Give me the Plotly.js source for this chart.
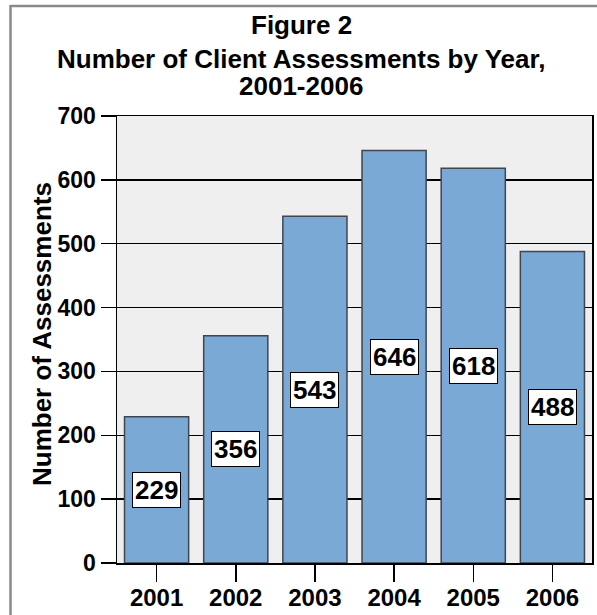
<!DOCTYPE html>
<html>
<head>
<meta charset="utf-8">
<script src="https://cdn.plot.ly/plotly-3.0.1.min.js"></script>
<style>html,body{margin:0;padding:0;background:#fff;overflow:hidden;}#chart{width:597px;height:615px;}</style>
</head>
<body>
<div id="chart"></div>
<script>
const years = ['2001', '2002', '2003', '2004', '2005', '2006'];
const assessments = [229, 356, 543, 646, 618, 488];
const yTicks = [0, 100, 200, 300, 400, 500, 600, 700];
const titleLine1 = 'Figure 2';
const titleLine2 = 'Number of Client Assessments by Year,';
const titleLine3 = '2001-2006';
const yTitle = 'Number of Assessments';

const FONT = 'Arial, "Liberation Sans", Helvetica, sans-serif';

const trace = {
  type: 'bar',
  x: years,
  y: assessments,
  marker: { color: '#7aa9d6', line: { color: '#3f4650', width: 1.5 } },
  hoverinfo: 'none'
};

const labelAnns = years.map((yr, i) => ({
  x: i, y: assessments[i] / 2, xref: 'x', yref: 'y',
  text: String(assessments[i]), showarrow: false,
  font: { family: FONT, size: 26, color: '#000', weight: 'bold' },
  bgcolor: '#ffffff', bordercolor: '#000000', borderwidth: 1, borderpad: 2,
  xanchor: 'center', yanchor: 'middle'
}));

const H = 447; // plot height px
function py(p) { return (563 - p) / H; }
function px(p) { return (p - 117) / 475; }

const titleAnns = [
  { text: titleLine1, y: py(25) },
  { text: titleLine2, y: py(59) },
  { text: titleLine3, y: py(85.5) }
].map(a => ({
  x: px(301), y: a.y, xref: 'paper', yref: 'paper', text: a.text, showarrow: false,
  xanchor: 'center', yanchor: 'middle',
  font: { family: FONT, size: 26, color: '#000', weight: 'bold' }
}));

const yTitleAnn = {
  x: px(42), y: py(334), xref: 'paper', yref: 'paper', text: yTitle, showarrow: false,
  textangle: -90, xanchor: 'center', yanchor: 'middle',
  font: { family: FONT, size: 26, color: '#000', weight: 'bold' }
};

const layout = {
  width: 597, height: 615,
  margin: { l: 117, r: 5, t: 116, b: 52, pad: 0 },
  paper_bgcolor: '#ffffff',
  plot_bgcolor: '#efefef',
  font: { family: FONT, color: '#000', weight: 'bold' },
  showlegend: false,
  bargap: 0.19,
  xaxis: {
    type: 'category',
    categoryorder: 'array', categoryarray: years,
    range: [-0.5, years.length - 0.5],
    showline: true, linecolor: '#000', linewidth: 1.5, mirror: true,
    ticks: 'outside', ticklen: 17, tickwidth: 1.5, tickcolor: '#000',
    tickfont: { family: FONT, size: 24, color: '#000', weight: 'bold' },
    ticklabelstandoff: -4,
    showgrid: false, zeroline: false, fixedrange: true
  },
  yaxis: {
    range: [0, 700],
    tickvals: yTicks,
    showline: true, linecolor: '#000', linewidth: 1.5, mirror: true,
    ticks: 'outside', ticklen: 15, tickwidth: 1.5, tickcolor: '#000',
    tickfont: { family: FONT, size: 23, color: '#000', weight: 'bold' },
    ticklabelstandoff: 0,
    showgrid: true, gridcolor: '#000', gridwidth: 1.5,
    zeroline: false, fixedrange: true
  },
  annotations: titleAnns.concat([yTitleAnn]).concat(labelAnns),
  shapes: [
    { type: 'line', xref: 'paper', yref: 'paper',
      x0: px(10.5), x1: px(600), y0: py(6), y1: py(6),
      line: { color: '#8a8a8a', width: 2.5 }, layer: 'above' },
    { type: 'line', xref: 'paper', yref: 'paper',
      x0: px(10.5), x1: px(10.5), y0: py(5), y1: py(620),
      line: { color: '#8a8a8a', width: 2.5 }, layer: 'above' }
  ]
};

Plotly.newPlot('chart', [trace], layout, { displayModeBar: false, staticPlot: true });
</script>
</body>
</html>
